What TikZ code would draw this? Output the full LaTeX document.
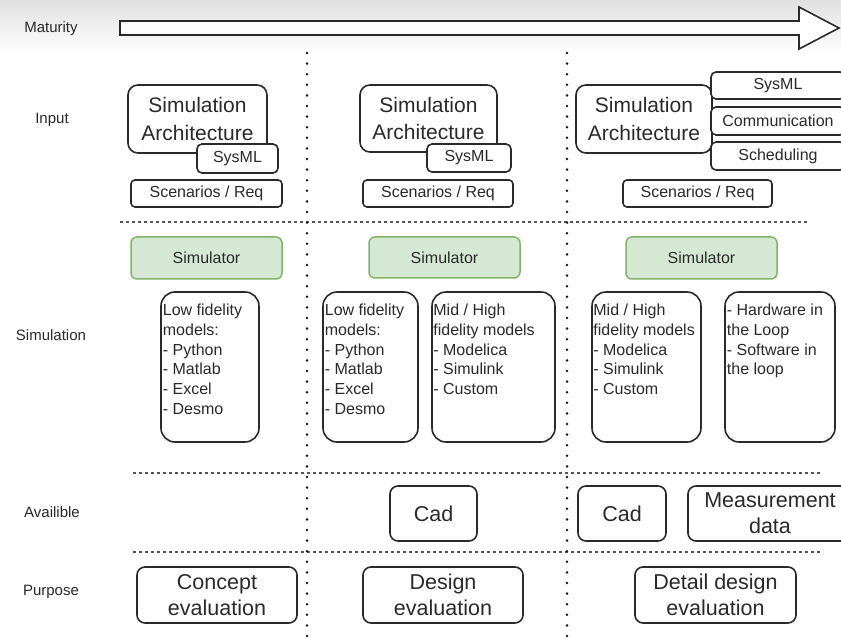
\documentclass[tikz,border=0pt]{standalone}
\usepackage{fontspec}
\setmainfont{Liberation Sans}
\definecolor{ink}{HTML}{2A2A2A}
\definecolor{simfill}{HTML}{D5E8D4}
\definecolor{simline}{HTML}{82B366}
\definecolor{dotc}{HTML}{555555}
\begin{document}
\begin{tikzpicture}[x=1pt,y=-1pt,
  box/.style={draw=ink, line width=1.6pt, fill=white, inner sep=0pt, text=ink, align=center},
  arch/.style={box, rounded corners=10pt, font=\fontsize{21}{27.5}\selectfont},
  tag/.style={box, rounded corners=5pt, font=\fontsize{16}{19}\selectfont},
  sim/.style={draw=simline, fill=simfill, line width=1.5pt, rounded corners=6pt, inner sep=0pt, text=ink, font=\fontsize{16}{19}\selectfont},
  model/.style={box, rounded corners=14pt},
  mtext/.style={anchor=north west, inner sep=0pt, align=left, text=ink, font=\fontsize{16}{19.8}\selectfont},
  big/.style={box, rounded corners=8pt, font=\fontsize{21.5}{26}\selectfont},
  lab/.style={text=ink, font=\fontsize{15}{18}\selectfont},
  hdots/.style={draw=dotc, line width=1.5pt, dash pattern=on 3pt off 3pt},
  vdots/.style={draw=black!90, line width=2.8pt, line cap=round, dash pattern=on 0pt off 10.6pt}
]
\useasboundingbox (0,0) rectangle (841,639);
\clip (0,0) rectangle (841,639);
\fill[white] (0,0) rectangle (841,639);
\shade[top color=black!12, bottom color=white] (0,0) rectangle (841,54);

% separators
\draw[hdots] (120,222) -- (808,222);
\draw[hdots] (133,473) -- (822,473);
\draw[hdots] (133,552) -- (822,552);
\draw[vdots] (307,53) -- (307,639);
\draw[vdots] (567,53) -- (567,639);

% maturity arrow
\draw[line width=1.6pt, draw=ink, fill=white, line join=miter]
  (120,21) -- (799,21) -- (799,7) -- (839,28) -- (799,49) -- (799,35) -- (120,35) -- cycle;

% row labels
\node[lab] (lmat) at (51,29) {Maturity};
\node[lab] (linp) at (52,120) {Input};
\node[lab] (lsim) at (51,335) {Simulation};
\node[lab] (lava) at (52,512) {Availible};
\node[lab] (lpur) at (51,592) {Purpose};

% column 1
\node[arch, minimum width=139pt, minimum height=68pt] (arch1) at (197.5,119) {Simulation\\Architecture};
\node[tag, minimum width=81pt, minimum height=29pt] (sys1) at (237.5,158.5) {SysML};
\node[tag, rounded corners=4pt, minimum width=151pt, minimum height=27pt] (scen1) at (206.5,193.5) {Scenarios / Req};
\node[sim, minimum width=151pt, minimum height=42pt] (simr1) at (206.5,258) {Simulator};
\node[model, minimum width=98pt, minimum height=150pt] (low1) at (210,367) {};
\node[mtext] (low1t) at ([xshift=2.5pt,yshift=-12.5pt]low1.north west) {Low fidelity\\models:\\- Python\\- Matlab\\- Excel\\- Desmo};
\node[big, minimum width=160pt, minimum height=56pt] (pur1) at (217,595) {Concept\\evaluation};

% column 2
\node[arch, minimum width=137pt, minimum height=67pt] (arch2) at (428.5,118.5) {Simulation\\Architecture};
\node[tag, minimum width=84pt, minimum height=28pt] (sys2) at (469,158) {SysML};
\node[tag, rounded corners=4pt, minimum width=150pt, minimum height=27pt] (scen2) at (438,193.5) {Scenarios / Req};
\node[sim, minimum width=151pt, minimum height=41pt] (simr2) at (444.5,257.5) {Simulator};
\node[model, minimum width=95pt, minimum height=150pt] (low2) at (370.5,367) {};
\node[mtext] (low2t) at ([xshift=2.5pt,yshift=-12.5pt]low2.north west) {Low fidelity\\models:\\- Python\\- Matlab\\- Excel\\- Desmo};
\node[model, minimum width=123pt, minimum height=150pt] (mid2) at (493.5,367) {};
\node[mtext] (mid2t) at ([xshift=2pt,yshift=-12.5pt]mid2.north west) {Mid / High\\fidelity models\\- Modelica\\- Simulink\\- Custom};
\node[big, minimum width=87pt, minimum height=55pt] (cad2) at (433.5,513.5) {Cad};
\node[big, minimum width=160pt, minimum height=56pt] (pur2) at (443,595) {Design\\evaluation};

% column 3
\node[arch, minimum width=136pt, minimum height=68pt] (arch3) at (644,119) {Simulation\\Architecture};
\node[tag, minimum width=134pt, minimum height=27pt] (sys3) at (778,85.5) {SysML};
\node[tag, minimum width=134pt, minimum height=28pt] (com3) at (778,121) {Communication};
\node[tag, minimum width=134pt, minimum height=28pt] (sch3) at (778,156) {Scheduling};
\node[tag, rounded corners=4pt, minimum width=149pt, minimum height=27pt] (scen3) at (697.5,193.5) {Scenarios / Req};
\node[sim, minimum width=151pt, minimum height=42pt] (simr3) at (701.5,258) {Simulator};
\node[model, minimum width=109pt, minimum height=150pt] (mid3) at (646.5,367) {};
\node[mtext] (mid3t) at ([xshift=2pt,yshift=-12.5pt]mid3.north west) {Mid / High\\fidelity models\\- Modelica\\- Simulink\\- Custom};
\node[model, minimum width=110pt, minimum height=150pt] (hil3) at (780,367) {};
\node[mtext] (hil3t) at ([xshift=2.5pt,yshift=-12.5pt]hil3.north west) {- Hardware in\\the Loop\\- Software in\\the loop};
\node[big, minimum width=88pt, minimum height=55pt] (cad3) at (622,513.5) {Cad};
\node[big, minimum width=164pt, minimum height=55pt] (meas3) at (770,513.5) {Measurement\\data};
\node[big, minimum width=161pt, minimum height=56pt] (pur3) at (715.5,595) {Detail design\\evaluation};
\end{tikzpicture}
\end{document}
